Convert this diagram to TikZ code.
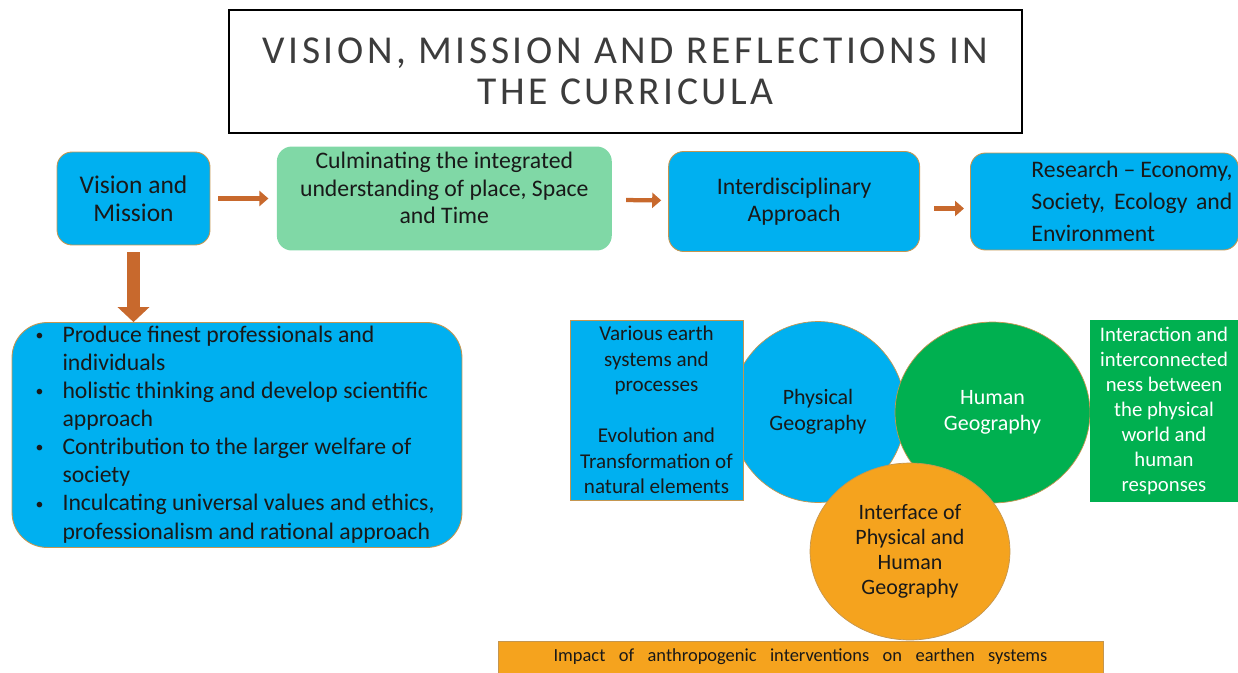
\documentclass[tikz,border=0pt]{standalone}
\usepackage{fontspec}
\setmainfont{Carlito}
\newfontfamily\titlefont[LetterSpace=9]{Carlito}
\usepackage{tikz}
\usetikzlibrary{positioning}
\usetikzlibrary{shapes.geometric}
\usetikzlibrary{arrows.meta}
\definecolor{skyblue}{RGB}{0,176,240}
\definecolor{leafgreen}{RGB}{0,176,80}
\definecolor{mintgreen}{RGB}{128,216,166}
\definecolor{amber}{RGB}{245,163,30}
\definecolor{rust}{RGB}{200,105,45}
\definecolor{tanrim}{RGB}{196,150,80}
\definecolor{ink}{RGB}{25,25,25}
\tikzset{
    concept map/.style={
            x=0.02cm,y=-0.02cm,
            box/.style={rectangle,rounded corners=0.3cm,draw=tanrim,line width=0.5pt,
                text=ink,align=center,font=\fontsize{13.5}{15.6}\selectfont},
            panel/.style={rectangle,draw=tanrim,line width=0.5pt,inner sep=0pt,align=center},
            blob/.style={ellipse,draw=tanrim,line width=0.4pt,inner sep=0pt,align=center},
            flow/.style={-{Triangle[length=0.18cm,width=0.3cm]},draw=rust,fill=rust,line width=0.085cm},
            bigflow/.style={-{Triangle[length=0.3cm,width=0.62cm]},draw=rust,fill=rust,line width=0.26cm}
        }
    }
\newcommand{\dotitem}{\raisebox{0.15ex}{\fontsize{9}{9}\selectfont\textbullet}}

\begin{document}
\begin{tikzpicture}[concept map]
    \useasboundingbox (0,0) rectangle (1238,673);
    % heading
    \node[draw=black,line width=1.3pt,minimum width=15.86cm,minimum height=2.46cm,
        align=center,text={rgb,255:red,60;green,60;blue,60},
        font=\titlefont\fontsize{22.5}{23}\selectfont] (title) at (625.5,71.5)
        {VISION, MISSION AND REFLECTIONS IN\\THE CURRICULA};
    % top row
    \node[box,fill=skyblue,minimum width=3.06cm,minimum height=1.86cm,
        font=\fontsize{14.5}{16}\selectfont] (vm) at (133.5,198.5) {Vision and\\Mission};
    \node[box,fill=mintgreen,draw=none,inner sep=0pt,minimum width=6.7cm,minimum height=2.08cm,
        right=1.32cm of vm] (cul)
        {\parbox[c][1.85cm][t]{6.6cm}{\centering Culminating the integrated\\understanding of place, Space\\and Time}};
    \node[box,fill=skyblue,minimum width=5.02cm,minimum height=2.0cm,
        right=1.12cm of cul,yshift=-0.06cm] (inter) {Interdisciplinary\\Approach};
    \node[box,fill=skyblue,minimum width=5.36cm,minimum height=1.94cm,align=none,
        font=\fontsize{13.5}{18.2}\selectfont,right=1.0cm of inter] (res)
        {\hspace*{1.1cm}\parbox{4.02cm}{Research -- Economy,\linebreak Society, Ecology and\linebreak Environment}};
    % aims
    \node[box,fill=skyblue,rounded corners=0.7cm,minimum width=9.0cm,minimum height=4.48cm,
        inner sep=0pt,font=\fontsize{13.5}{16}\selectfont] (aims) at (237,435)
        {\begin{tabular}{@{\hspace{0.46cm}}p{0.54cm}@{}p{7.98cm}@{}}
            \dotitem & Produce finest professionals and\\
                     & individuals\\
            \dotitem & holistic thinking and develop scientific\\
                     & approach\\
            \dotitem & Contribution to the larger welfare of\\
                     & society\\
            \dotitem & Inculcating universal values and ethics,\\
                     & professionalism and rational approach
        \end{tabular}};
    % geography circles
    \node[blob,fill=skyblue,minimum width=3.5cm,minimum height=3.62cm,text=ink,
        font=\fontsize{12.5}{14.8}\selectfont] (phys) at (818,412) {Physical\\Geography};
    \node[panel,fill=skyblue,minimum width=3.46cm,minimum height=3.6cm,text=ink,
        font=\fontsize{12}{14.5}\selectfont] (earth) at (656.5,410)
        {Various earth\\systems and\\processes\\[14.5pt]Evolution and\\Transformation of\\natural elements};
    \node[blob,fill=leafgreen,minimum width=3.9cm,minimum height=3.62cm,text=white,
        font=\fontsize{12.5}{14.8}\selectfont] (human) at (992.5,412.5) {Human\\Geography};
    \node[panel,fill=leafgreen,draw=none,minimum width=2.96cm,minimum height=3.64cm,text=white,
        font=\fontsize{11.8}{14.3}\selectfont] (links) at (1164,411)
        {Interaction and\\interconnected\\ness between\\the physical\\world and\\human\\responses};
    \node[blob,fill=amber,minimum width=4.0cm,minimum height=3.54cm,text=ink,
        font=\fontsize{12.5}{14.2}\selectfont] (meet) at (910,551.5)
        {Interface of\\Physical and\\Human\\Geography};
    \node[panel,fill=amber,minimum width=12.1cm,minimum height=0.64cm,text=ink,
        font=\fontsize{10.5}{12}\selectfont] (impact) at (800.5,657)
        {\makebox[9.88cm][s]{Impact of anthropogenic interventions on earthen systems}};
    % arrows
    \draw[flow,shorten <=0.16cm,shorten >=0.16cm] (vm) -- (cul);
    \draw[flow,shorten <=0.28cm,shorten >=0.14cm] (cul) -- (inter);
    \draw[flow,shorten <=0.28cm,shorten >=0.12cm] ([yshift=-0.14cm]inter.east) -- ([yshift=-0.14cm]res.west);
    \draw[bigflow,shorten <=0.14cm] (vm.south) -- (vm.south |- aims.north);
\end{tikzpicture}
\end{document}
